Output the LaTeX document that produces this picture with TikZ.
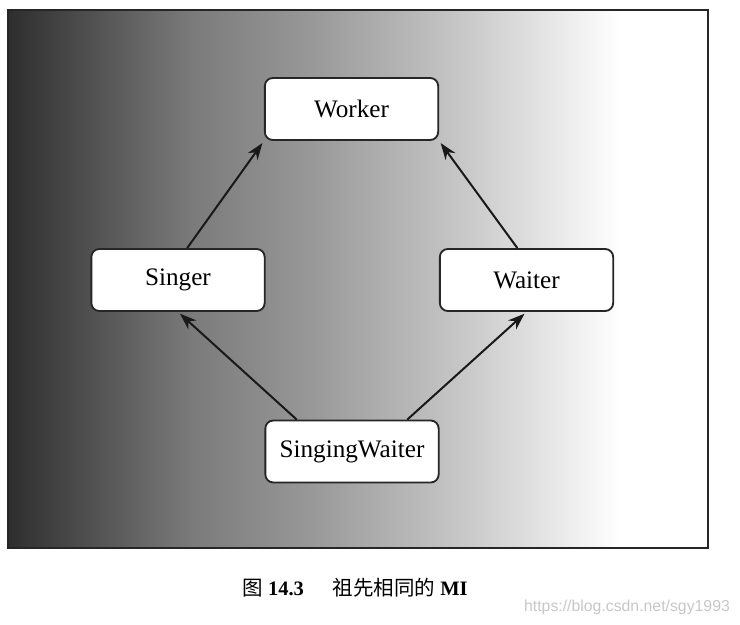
\documentclass[tikz,border=0pt]{standalone}
\usepackage{fontspec}
\setmainfont{Liberation Serif}
\newfontfamily\cjk{Noto Sans CJK SC}
\newfontfamily\wmfont{Liberation Sans}
\usetikzlibrary{arrows.meta}

\pgfdeclarehorizontalshading{fondo}{100bp}{color(0bp)=(black!82); color(25bp)=(black!82);
    color(32bp)=(black!68); color(40bp)=(black!52); color(50bp)=(black!40);
    color(62bp)=(black!22); color(75bp)=(white); color(100bp)=(white)}

\begin{document}
\begin{tikzpicture}[x=0.3mm,y=-0.3mm,
    clase/.style={draw=black!85, line width=0.55mm, fill=white, rounded corners=2.4mm,
        minimum width=52mm, minimum height=18.6mm, font=\fontsize{21.5}{25}\selectfont},
    herencia/.style={-{Stealth[length=5mm,width=3.6mm]}, line width=0.6mm, black!90}]
                \useasboundingbox (0,0) rectangle (740,625);

                % Fondo
                \shade[shading=fondo] (8,10) rectangle (620,548);
                \fill[white] (620,10) rectangle (708,548);
                \draw[line width=0.6mm, black!85] (8,10) rectangle (708,548);

                % Clases
                \node[clase] (worker) at (351.5,109) {Worker};
                \node[clase] (singer) at (178,280) {Singer};
                \node[clase] (waiter) at (526.5,280) {Waiter};
                \node[clase] (sw) at (352,451.5) {SingingWaiter};

                % Herencia
                \draw[herencia, shorten >=0.8mm] (singer.74) -- (worker.south west);
                \draw[herencia, shorten >=0.8mm] (waiter.106) -- (worker.south east);
                \draw[herencia, shorten >=0.8mm] (sw.150) -- (singer.south);
                \draw[herencia, shorten >=0.8mm] (sw.30) -- (waiter.south);

                % Leyenda
                \node[font=\fontsize{17.5}{21}\selectfont] (pie) at (355,588)
                    {{\cjk 图} \textbf{14.3}\hspace{1.4em}{\cjk 祖先相同的} \textbf{MI}};
                \node[anchor=east, text=black!22, font=\wmfont\fontsize{13.5}{16}\selectfont] (marca) at (734,607)
                    {https://blog.csdn.net/sgy1993};

            \end{tikzpicture}
\end{document}
